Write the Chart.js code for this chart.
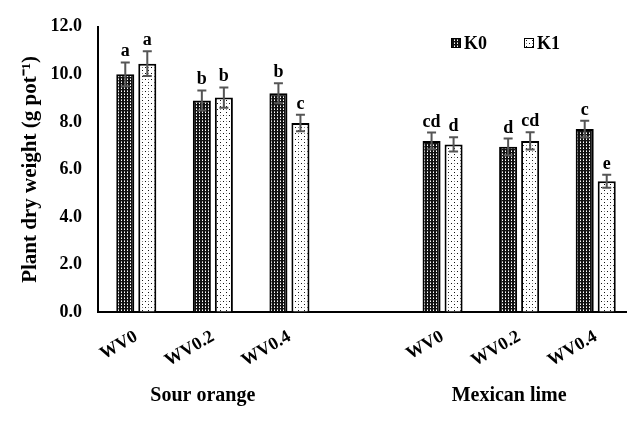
<!DOCTYPE html>
<html>
<head>
<meta charset="utf-8">
<script src="https://cdn.jsdelivr.net/npm/chart.js@4.4.1/dist/chart.umd.min.js"></script>
<style>
  html, body { margin: 0; padding: 0; background: #fff; overflow: hidden; }
  #wrap { width: 640px; height: 427px; }
</style>
</head>
<body>
<div id="wrap"><canvas id="c" width="640" height="427"></canvas></div>
<script>
// ---- data ----
const categories = ['WV0', 'WV0.2', 'WV0.4', '', 'WV0', 'WV0.2', 'WV0.4'];
const groupLabels = ['', 'Sour orange', '', '', '', 'Mexican lime', ''];
const seriesNames = ['K0', 'K1'];
const k0Values = [10.0, 8.9, 9.2, null, 7.2, 6.95, 7.7];
const k1Values = [10.45, 9.02, 7.95, null, 7.05, 7.2, 5.5];
const k0Errors = [0.5, 0.42, 0.42, null, 0.35, 0.35, 0.35];
const k1Errors = [0.52, 0.43, 0.35, null, 0.3, 0.36, 0.27];
const k0Letters = ['a', 'b', 'b', '', 'cd', 'd', 'c'];
const k1Letters = ['a', 'b', 'c', '', 'd', 'cd', 'e'];
const yTicks = [0, 2, 4, 6, 8, 10, 12];

const FONT = "'Liberation Serif', 'Times New Roman', serif";

function makePattern(w, h, draw) {
  const t = document.createElement('canvas');
  t.width = w; t.height = h;
  const g = t.getContext('2d');
  draw(g);
  return document.getElementById('c').getContext('2d').createPattern(t, 'repeat');
}
const patK0 = makePattern(3, 3, g => {
  g.fillStyle = '#111'; g.fillRect(0, 0, 3, 3);
  g.fillStyle = '#ffffff'; g.fillRect(1, 1, 1, 1);
  g.fillStyle = '#9a9a9a'; g.fillRect(1, 0, 1, 1);
});
const patK1 = makePattern(6, 6, g => {
  g.fillStyle = '#fff'; g.fillRect(0, 0, 6, 6);
  g.fillStyle = '#111'; g.fillRect(1, 1, 1, 1); g.fillRect(4, 4, 1, 1);
  g.fillStyle = '#888'; g.fillRect(4, 1, 1, 1);
});

const errorPlugin = {
  id: 'errorLetters',
  afterDatasetsDraw(chart) {
    const ctx = chart.ctx;
    const y = chart.scales.y;
    const errs = [k0Errors, k1Errors];
    const lets = [k0Letters, k1Letters];
    chart.data.datasets.forEach((ds, di) => {
      const meta = chart.getDatasetMeta(di);
      meta.data.forEach((bar, i) => {
        const v = ds.data[i];
        if (v == null) return;
        const e = errs[di][i];
        const top = y.getPixelForValue(v + e);
        const bot = y.getPixelForValue(v - e);
        const x = bar.x;
        ctx.save();
        ctx.strokeStyle = '#555';
        ctx.lineWidth = 2;
        ctx.beginPath();
        ctx.moveTo(x, top); ctx.lineTo(x, bot);
        ctx.moveTo(x - 4.5, top); ctx.lineTo(x + 4.5, top);
        ctx.moveTo(x - 4.5, bot); ctx.lineTo(x + 4.5, bot);
        ctx.stroke();
        ctx.fillStyle = '#000';
        ctx.font = 'bold 18px ' + FONT;
        ctx.textAlign = 'center';
        ctx.textBaseline = 'alphabetic';
        ctx.fillText(lets[di][i], x, top - 6);
        ctx.restore();
      });
    });
  }
};

const legendPlugin = {
  id: 'customLegend',
  afterDraw(chart) {
    const ctx = chart.ctx;
    const items = [{x: 451, fill: patK0}, {x: 524, fill: patK1}];
    ctx.save();
    items.forEach((it, i) => {
      ctx.fillStyle = it.fill;
      ctx.fillRect(it.x, 38, 10, 10);
      ctx.strokeStyle = '#000';
      ctx.lineWidth = 1;
      ctx.strokeRect(it.x + 0.5, 38.5, 9, 9);
      ctx.fillStyle = '#000';
      ctx.font = 'bold 18px ' + FONT;
      ctx.textAlign = 'left';
      ctx.textBaseline = 'middle';
      ctx.fillText(seriesNames[i], it.x + 13, 44);
    });
    ctx.restore();
  }
};

new Chart(document.getElementById('c'), {
  type: 'bar',
  data: {
    labels: categories,
    datasets: [
      { label: seriesNames[0], data: k0Values, backgroundColor: patK0, borderColor: '#000', borderWidth: 2,
        barPercentage: 0.82, categoryPercentage: 0.575 },
      { label: seriesNames[1], data: k1Values, backgroundColor: patK1, borderColor: '#000', borderWidth: 2,
        barPercentage: 0.82, categoryPercentage: 0.575 }
    ]
  },
  options: {
    responsive: false,
    animation: false,
    layout: { padding: { top: 22, right: 6, left: 0, bottom: 0 } },
    plugins: { legend: { display: false }, tooltip: { enabled: false } },
    scales: {
      x: {
        type: 'category',
        position: 'bottom',
        weight: 0,
        grid: { display: true, drawOnChartArea: false, drawTicks: false },
        border: { display: true, color: '#000', width: 2 },
        ticks: { color: '#000', font: { family: FONT, size: 18, weight: 'bold' },
                 maxRotation: 30, minRotation: 30, autoSkip: false, padding: 14 },
        afterFit(s) { s.height = 55; }
      },
      xg: {
        type: 'category',
        position: 'bottom',
        weight: 10,
        labels: groupLabels,
        grid: { display: false },
        border: { display: false },
        ticks: { color: '#000', font: { family: FONT, size: 20, weight: 'bold' },
                 maxRotation: 0, minRotation: 0, autoSkip: false, padding: 9, labelOffset: -10 },
        afterFit(s) { s.height = 60; }
      },
      y: {
        min: 0, max: 12,
        afterBuildTicks(s) { s.ticks = yTicks.map(v => ({ value: v })); },
        grid: { display: true, drawOnChartArea: false, drawTicks: false },
        border: { display: true, color: '#000', width: 2 },
        ticks: { color: '#000', padding: 16, font: { family: FONT, size: 18, weight: 'bold' },
                 callback: v => Number(v).toFixed(1) },
        title: { display: true, text: 'Plant dry weight (g pot\u207B\u00B9)', color: '#000',
                 font: { family: FONT, size: 21, weight: 'bold' }, padding: { top: 18, bottom: 0 } },
        afterFit(s) { s.width = 98; }
      }
    }
  },
  plugins: [errorPlugin, legendPlugin]
});
</script>
</body>
</html>
